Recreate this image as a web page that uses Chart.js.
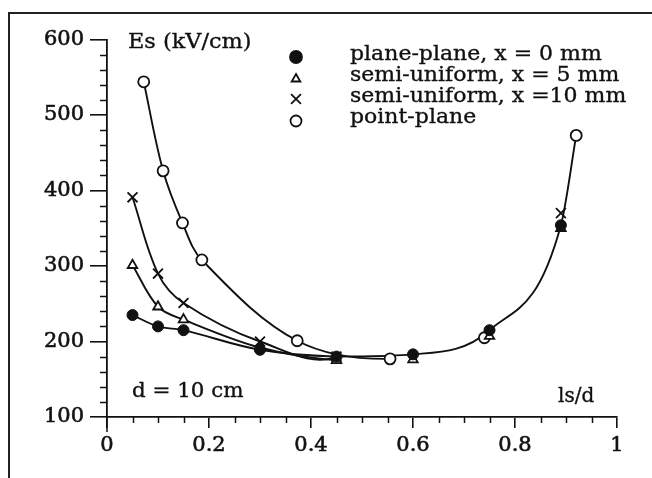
<!DOCTYPE html>
<html lang="en">
<head>
  <meta charset="UTF-8">
  <title>Es vs ls/d</title>
  <style>
    body { margin: 0; background: #fff; }
    #wrap {
      position: relative;
      width: 652px;
      height: 478px;
      overflow: hidden;
      font-family: 'DejaVu Serif', serif;
      color: #111;
    }
    /* frame of the scanned figure, only left and top edges visible */
    #frame {
      position: absolute;
      left: 8px;
      top: 12px;
      width: 720px;
      height: 520px;
      border-left: 2px solid #222;
      border-top: 2px solid #222;
    }
    canvas { position: absolute; left: 0; top: 0; }
    .lbl {
      position: absolute;
      font-size: 20px;
      line-height: 21px;
      white-space: nowrap;
      transform-origin: left top;
      -webkit-text-stroke: 0.35px #111;
    }
  </style>
  <script src="https://cdn.jsdelivr.net/npm/chart.js"></script>
</head>
<body>
<div id="wrap">
  <div id="frame"></div>
  <canvas id="chart" width="652" height="478"></canvas>
  <div class="lbl" style="left:128px; top:31px; transform:scaleX(1.12);">Es (kV/cm)</div>
  <div class="lbl" id="legendText" style="left:350px; top:43px; transform:scaleX(1.1);"></div>
  <div class="lbl" style="left:132px; top:380px; transform:scaleX(1.07);">d = 10 cm</div>
  <div class="lbl" style="left:558px; top:385px;">ls/d</div>
</div>

<script>
  // tick values
  const xMajor = [0, 0.2, 0.4, 0.6, 0.8, 1];
  const yMajor = [100, 200, 300, 400, 500, 600];
  const xMinorStep = 0.05;
  const yMinorStep = 20;

  // plane-plane, x = 0 mm (filled circles)
  const planeX = [0.05, 0.10, 0.15, 0.30, 0.45, 0.60, 0.75, 0.89];
  const planeY = [235, 220, 215, 189, 180, 183, 215, 354];

  // semi-uniform, x = 5 mm (triangles)
  const semi5X = [0.05, 0.10, 0.15, 0.30, 0.45, 0.60, 0.75, 0.89];
  const semi5Y = [301, 246, 229, 192, 175, 176, 207, 350];

  // semi-uniform, x = 10 mm (crosses)
  const semi10X = [0.05, 0.10, 0.15, 0.30, 0.45, 0.89];
  const semi10Y = [391, 290, 251, 200, 180, 370];

  // point-plane (open circles)
  const pointX = [0.072, 0.11, 0.148, 0.186, 0.373, 0.555, 0.74, 0.92];
  const pointY = [544, 426, 357, 308, 201, 177, 205, 473];

  const seriesNames = [
    'plane-plane, x = 0 mm',
    'semi-uniform, x = 5 mm',
    'semi-uniform, x =10 mm',
    'point-plane'
  ];

  document.getElementById('legendText').innerHTML = seriesNames.join('<br>');

  const toXY = (xs, ys) => xs.map((x, i) => ({ x: x, y: ys[i] }));

  // the separate curves meet at ls/d = 0.45, after that one common curve
  const tailX = planeX.slice(4).concat([pointX[pointX.length - 1]]);
  const tailY = planeY.slice(4).concat([pointY[pointY.length - 1]]);

  const INK = '#111';
  const LW = 1.9;

  // line only up to the given index
  const lineUpTo = last => ({
    borderColor: ctx => ctx.p1DataIndex > last ? 'rgba(0,0,0,0)' : INK
  });

  const minorTicks = {
    id: 'minorTicks',
    afterDraw(chart) {
      const { ctx, scales: { x, y } } = chart;
      ctx.save();
      ctx.strokeStyle = INK;
      ctx.lineWidth = 1.5;
      ctx.beginPath();
      for (let v = y.min; v <= y.max + 0.001; v += yMinorStep) {
        if (Math.abs(v % 100) < 0.001) continue;
        const py = Math.round(y.getPixelForValue(v)) + 0.5;
        ctx.moveTo(x.left, py);
        ctx.lineTo(x.left - 7, py);
      }
      const n = Math.round((x.max - x.min) / xMinorStep);
      for (let i = 1; i < n; i++) {
        if (i % 4 === 0) continue;
        const px = Math.round(x.getPixelForValue(x.min + i * xMinorStep)) + 0.5;
        ctx.moveTo(px, y.bottom);
        ctx.lineTo(px, y.bottom + 6);
      }
      // y axis runs a little below the x axis
      const p0 = x.getPixelForValue(0);
      ctx.moveTo(p0, y.bottom);
      ctx.lineTo(p0, y.bottom + 15);
      ctx.stroke();

      // legend markers
      if (Chart.helpers && Chart.helpers.drawPoint) {
        const marks = [
          { pointStyle: 'circle', radius: 6, fill: INK },
          { pointStyle: 'triangle', radius: 5, fill: '#fff' },
          { pointStyle: 'crossRot', radius: 7, fill: '#fff' },
          { pointStyle: 'circle', radius: 5.5, fill: '#fff' }
        ];
        const ly = [57, 79, 99, 121];
        marks.forEach((m, i) => {
          ctx.fillStyle = m.fill;
          ctx.strokeStyle = INK;
          ctx.lineWidth = 1.8;
          Chart.helpers.drawPoint(ctx, { pointStyle: m.pointStyle, radius: m.radius, borderWidth: 1.8, rotation: 0 }, 296, ly[i]);
        });
      }
      ctx.restore();
    }
  };

  const tickFont = { family: 'DejaVu Serif', size: 21 };

  const curve = {
    showLine: true,
    borderColor: INK,
    borderWidth: LW,
    tension: 0.35
  };

  new Chart(document.getElementById('chart'), {
    type: 'scatter',
    data: {
      datasets: [
        Object.assign({}, curve, {
          label: seriesNames[0],
          data: toXY(planeX, planeY),
          segment: lineUpTo(4),
          pointStyle: 'circle',
          pointRadius: 5.5,
          pointBackgroundColor: INK,
          pointBorderColor: INK,
          pointBorderWidth: 1
        }),
        Object.assign({}, curve, {
          label: seriesNames[1],
          data: toXY(semi5X, semi5Y),
          segment: lineUpTo(4),
          pointStyle: 'triangle',
          pointRadius: 5.5,
          pointBackgroundColor: '#fff',
          pointBorderColor: INK,
          pointBorderWidth: 1.8
        }),
        Object.assign({}, curve, {
          label: seriesNames[2],
          data: toXY(semi10X, semi10Y),
          segment: lineUpTo(4),
          pointStyle: 'crossRot',
          pointRadius: 7,
          pointBorderColor: INK,
          pointBorderWidth: 1.8
        }),
        Object.assign({}, curve, {
          label: seriesNames[3],
          data: toXY(pointX, pointY),
          segment: lineUpTo(5),
          pointStyle: 'circle',
          pointRadius: 5.5,
          pointBackgroundColor: '#fff',
          pointBorderColor: INK,
          pointBorderWidth: 1.8
        }),
        {
          label: 'common curve',
          data: toXY(tailX, tailY),
          showLine: true,
          borderColor: INK,
          borderWidth: LW,
          cubicInterpolationMode: 'monotone',
          pointRadius: 0
        }
      ]
    },
    options: {
      responsive: false,
      animation: false,
      events: [],
      layout: { padding: { left: 0, top: 39.5, right: 35, bottom: 0 } },
      plugins: {
        legend: { display: false },
        tooltip: { enabled: false }
      },
      scales: {
        x: {
          type: 'linear',
          min: 0,
          max: 1,
          afterBuildTicks: s => { s.ticks = xMajor.map(v => ({ value: v })); },
          afterFit: s => { s.height = 61; },
          ticks: {
            font: tickFont,
            color: INK,
            padding: 5,
            maxRotation: 0,
            textStrokeColor: INK,
            textStrokeWidth: 0.6,
            callback: v => String(v)
          },
          grid: {
            drawOnChartArea: false,
            drawTicks: true,
            tickLength: 11,
            color: INK,
            lineWidth: 1.6
          },
          border: { display: true, color: INK, width: 1.8 }
        },
        y: {
          type: 'linear',
          min: 100,
          max: 600,
          afterBuildTicks: s => { s.ticks = yMajor.map(v => ({ value: v })); },
          afterFit: s => { s.width = 107; },
          ticks: {
            font: tickFont,
            color: INK,
            padding: 6,
            textStrokeColor: INK,
            textStrokeWidth: 0.6,
            callback: v => String(v)
          },
          grid: {
            drawOnChartArea: false,
            drawTicks: true,
            tickLength: 17,
            color: INK,
            lineWidth: 1.6
          },
          border: { display: true, color: INK, width: 1.8 }
        }
      }
    },
    plugins: [minorTicks]
  });
</script>
</body>
</html>
